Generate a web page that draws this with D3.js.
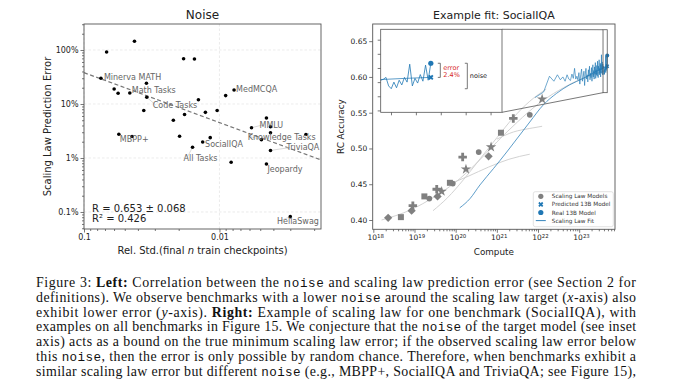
<!DOCTYPE html>
<html>
<head>
<meta charset="utf-8">
<script src="https://cdn.jsdelivr.net/npm/d3@7"></script>
<style>
  body { margin: 0; background: #fff; }
  svg { display: block; font-family: "DejaVu Sans", sans-serif; }
</style>
</head>
<body>
<div id="fig"></div>
<script>

// ---------------- LEFT PANEL DATA (noise vs. scaling law error) ----------------
const relStd = [0.0681, 0.0424, 0.0184, 0.0153, 0.0750, 0.0346, 0.0599, 0.0560, 0.0459, 0.0344,
                0.0143, 0.0090, 0.0078, 0.0362, 0.0219, 0.0181, 0.0127, 0.0104, 0.0058, 0.0045,
                0.0042, 0.0042, 0.0049, 0.0023, 0.0042, 0.0045, 0.0082, 0.0553, 0.0442, 0.0197,
                0.0117, 0.0133, 0.0158, 0.0030];
const predError = [0.918, 1.45, 0.69, 0.68, 0.299, 0.242, 0.19, 0.158, 0.16, 0.133,
                   0.12, 0.143, 0.182, 0.076, 0.050, 0.064, 0.070, 0.076, 0.0364, 0.055,
                   0.038, 0.0294, 0.0218, 0.0272, 0.0138, 0.00774, 0.00832, 0.0275, 0.0250, 0.0252,
                   0.0238, 0.0198, 0.0158, 0.00082];
// named benchmarks: index into the arrays above
const benchIndex = [4, 8, 9, 12, 18, 22, 24, 25, 31, 32, 27, 33];
const benchNames = ["Minerva MATH", "Math Tasks", "Code Tasks", "MedMCQA", "MMLU", "Knowledge Tasks",
                    "TriviaQA", "Jeopardy", "SocialIQA", "All Tasks", "MBPP+", "HellaSwag"];
// regression line ends (rel. std, error)
const fitRelStd = [0.1, 0.00178];
const fitError = [0.38, 0.0092];
const statLines = ["R = 0.653 \u00b1 0.068", "R\u00b2 = 0.426"];
const leftYTicks = [1, 0.1, 0.01, 0.001];
const leftXTicks = [0.1, 0.01];

// ---------------- RIGHT PANEL DATA (example fit: SocialIQA) ----------------
// scaling law models: log10(compute), accuracy, marker
const smLogC = [18.36, 18.67, 18.93, 18.96, 19.24, 19.36, 19.54, 19.56, 19.66, 19.86,
                19.93, 20.17, 20.25, 20.56, 20.80, 20.86, 21.10, 21.40, 21.80, 22.10];
const smAcc = [0.403, 0.404, 0.413, 0.420, 0.433, 0.430, 0.443, 0.433, 0.440, 0.452,
               0.451, 0.488, 0.471, 0.495, 0.489, 0.502, 0.522, 0.542, 0.547, 0.569];
const smShape = ["D", "s", "D", "P", "s", "o", "P", "D", "*", "s",
                 "o", "P", "*", "o", "D", "*", "s", "P", "o", "*"];
// light grey per-ladder fits: [log10(compute), accuracy]
const ladderFits = [
  [[18.2, 0.400], [18.9, 0.414], [19.5, 0.433], [20.0, 0.453], [20.5, 0.479], [21.0, 0.509],
   [21.5, 0.537], [22.0, 0.562], [22.5, 0.581], [23.0, 0.596], [23.6, 0.608]],
  [[19.45, 0.413], [19.8, 0.431], [20.2, 0.457], [20.6, 0.486], [21.0, 0.515], [21.4, 0.543],
   [21.8, 0.566], [22.2, 0.583]],
  [[19.8, 0.449], [20.3, 0.461], [20.8, 0.474], [21.3, 0.485], [21.8, 0.492]],
  [[21.0, 0.513], [21.4, 0.523], [21.8, 0.528], [22.1, 0.531]]
];
// blue scaling law fit: [log10(compute), accuracy]
const scalingFit = [[20.10, 0.417], [20.35, 0.430], [20.59, 0.449], [20.92, 0.472], [21.24, 0.495],
                    [21.52, 0.516], [21.80, 0.537], [22.13, 0.561], [22.45, 0.577], [22.77, 0.589],
                    [23.10, 0.598], [23.42, 0.608], [23.68, 0.615]];
// 13B training checkpoints (evenly spaced in steps)
const ckptFirst = 8.4e21, ckptLast = 4.8e23;
const ckptAcc = [
  0.571, 0.579, 0.601, 0.594, 0.603, 0.596, 0.600, 0.594, 0.603, 0.597,
  0.595, 0.604, 0.598, 0.612, 0.597, 0.601, 0.596, 0.606, 0.590, 0.603,
  0.611, 0.594, 0.600, 0.608, 0.588, 0.604, 0.612, 0.597, 0.603, 0.593,
  0.610, 0.601, 0.615, 0.596, 0.605, 0.599, 0.613, 0.594, 0.607, 0.617,
  0.600, 0.609, 0.597, 0.614, 0.604, 0.620, 0.598, 0.610, 0.603, 0.616,
  0.601, 0.622, 0.607, 0.599, 0.615, 0.609, 0.624, 0.603, 0.612, 0.606,
  0.619, 0.600, 0.617, 0.610, 0.631, 0.605, 0.614, 0.621, 0.603, 0.618,
  0.612, 0.613, 0.615, 0.606, 0.603, 0.610, 0.604, 0.612, 0.607, 0.615,
  0.610, 0.629, 0.606, 0.614, 0.609, 0.618, 0.611, 0.628, 0.612, 0.630];
const predicted13B = 0.615;
const real13B = 0.630;
const insetWindow = 20;          // last n checkpoints shown in the inset
const insetAccRange = [0.578, 0.666];
const rightYTicks = [0.40, 0.45, 0.50, 0.55, 0.60, 0.65];
const rightXExp = [18, 19, 20, 21, 22, 23];
const legendItems = ["Scaling Law Models", "Predicted 13B Model", "Real 13B Model", "Scaling Law Fit"];

// ---------------- CAPTION ----------------
const captionLines = [
  [["Figure 3: ", ""], ["Left:", "b"], [" Correlation between the ", ""], ["noise", "m"], [" and scaling law prediction error (see Section 2 for", ""]],
  [["definitions). We observe benchmarks with a lower ", ""], ["noise", "m"], [" around the scaling law target (", ""], ["x", "i"], ["-axis) also", ""]],
  [["exhibit lower error (", ""], ["y", "i"], ["-axis). ", ""], ["Right:", "b"], [" Example of scaling law for one benchmark (SocialIQA), with", ""]],
  [["examples on all benchmarks in Figure 15. We conjecture that the ", ""], ["noise", "m"], [" of the target model (see inset", ""]],
  [["axis) acts as a bound on the true minimum scaling law error; if the observed scaling law error below", ""]],
  [["this ", ""], ["noise", "m"], [", then the error is only possible by random chance. Therefore, when benchmarks exhibit a", ""]],
  [["similar scaling law error but different ", ""], ["noise", "m"], [" (e.g., MBPP+, SocialIQA and TriviaQA; see Figure 15),", ""]]
];

// ================= LAYOUT =================
const settings = {
  width: 678, height: 381,
  left: { x0: 84, x1: 321, y0: 24, y1: 229 },
  right: { x0: 372.7, x1: 615, y0: 24, y1: 229.3 },
  inset: { x0: 380.7, x1: 502, y0: 29.3, y1: 112.3 },
  spine: "#555",
  blue: "#1f77b4",
  grey: "#808080"
};
// label offsets (px) from the point to the label's left/middle
const labelOffset = [[3, -1], [2, -2.3], [6, 7.7], [2, -0.7], [8, -2.7], [-13.7, -3],
                     [16, -2.8], [1, 5.3], [2.4, 2.7], [-9, 11.4], [1, 4.7], [-13.3, 4.3]];

const svg = d3.select("#fig").append("svg")
  .attr("width", settings.width)
  .attr("height", settings.height);

function minorLogTicks(domain) {
  const lo = Math.min(...domain), hi = Math.max(...domain);
  const out = [];
  for (let e = Math.floor(Math.log10(lo)); e <= Math.ceil(Math.log10(hi)); e++) {
    for (let m = 2; m <= 9; m++) {
      const v = m * Math.pow(10, e);
      if (v >= lo && v <= hi) out.push(v);
    }
  }
  return out;
}

function styleAxis(g, fontSize) {
  g.select(".domain").remove();
  g.selectAll("line").attr("stroke", settings.spine).attr("stroke-width", 0.8);
  g.selectAll("text").attr("fill", "#222").attr("font-size", fontSize).attr("font-family", "DejaVu Sans");
}

// ================= LEFT PANEL =================
const P = settings.left;
const xL = d3.scaleLog().domain([0.1, 0.00178]).range([P.x0, P.x1]);
const yL = d3.scaleLog().domain([0.000484, 3.03]).range([P.y1, P.y0]);
const gL = svg.append("g");

// grid
gL.append("g").selectAll("line").data(leftYTicks).join("line")
  .attr("x1", P.x0).attr("x2", P.x1).attr("y1", d => yL(d)).attr("y2", d => yL(d))
  .attr("stroke", "#e3e3e3").attr("stroke-width", 0.7).attr("stroke-dasharray", "2.5,2");
gL.append("g").selectAll("line").data(leftXTicks).join("line")
  .attr("y1", P.y0).attr("y2", P.y1).attr("x1", d => xL(d)).attr("x2", d => xL(d))
  .attr("stroke", "#e3e3e3").attr("stroke-width", 0.7).attr("stroke-dasharray", "2.5,2");

// axes
gL.append("g").attr("transform", `translate(${P.x0},0)`)
  .call(d3.axisLeft(yL).tickValues(leftYTicks).tickSize(3.5).tickPadding(2)
    .tickFormat(d => `${+(d * 100).toPrecision(3)}%`))
  .call(g => styleAxis(g, "8px"));
gL.append("g").attr("transform", `translate(${P.x0},0)`)
  .call(d3.axisLeft(yL).tickValues(minorLogTicks(yL.domain())).tickSize(2).tickFormat(""))
  .call(g => styleAxis(g, "8px"));
gL.append("g").attr("transform", `translate(0,${P.y1})`)
  .call(d3.axisBottom(xL).tickValues(leftXTicks).tickSize(3.5).tickPadding(2)
    .tickFormat(d => String(d)))
  .call(g => styleAxis(g, "8px"));
gL.append("g").attr("transform", `translate(0,${P.y1})`)
  .call(d3.axisBottom(xL).tickValues(minorLogTicks(xL.domain())).tickSize(2).tickFormat(""))
  .call(g => styleAxis(g, "8px"));

// regression line
gL.append("line")
  .attr("x1", xL(fitRelStd[0])).attr("y1", yL(fitError[0]))
  .attr("x2", xL(fitRelStd[1])).attr("y2", yL(fitError[1]))
  .attr("stroke", "#777").attr("stroke-width", 1.2).attr("stroke-dasharray", "4,2.5");

// label connectors
benchIndex.forEach((idx, k) => {
  const px = xL(relStd[idx]), py = yL(predError[idx]);
  const [dx, dy] = labelOffset[k];
  if (Math.abs(dx) > 5 || Math.abs(dy) > 6) {
    gL.append("line")
      .attr("x1", px).attr("y1", py).attr("x2", px + dx + 3).attr("y2", py + dy)
      .attr("stroke", "#cfcfcf").attr("stroke-width", 0.8);
  }
});

gL.append("g").selectAll("circle").data(relStd).join("circle")
  .attr("cx", d => xL(d))
  .attr("cy", (d, i) => yL(predError[i]))
  .attr("r", 1.8)
  .attr("fill", "#000");

gL.append("g").selectAll("text").data(benchIndex).join("text")
  .attr("x", (idx, k) => xL(relStd[idx]) + labelOffset[k][0])
  .attr("y", (idx, k) => yL(predError[idx]) + labelOffset[k][1])
  .attr("dy", "0.35em")
  .attr("font-size", "8px")
  .attr("fill", "#666")
  .text((idx, k) => benchNames[k]);

// stats
gL.append("g").selectAll("text").data(statLines).join("text")
  .attr("x", 92).attr("y", (d, i) => 208 + i * 10.5).attr("dy", "0.35em")
  .attr("font-size", "10px").attr("fill", "#222")
  .text(d => d);

// frame, titles
gL.append("rect").attr("x", P.x0).attr("y", P.y0).attr("width", P.x1 - P.x0).attr("height", P.y1 - P.y0)
  .attr("fill", "none").attr("stroke", settings.spine).attr("stroke-width", 0.9);
gL.append("text").attr("x", (P.x0 + P.x1) / 2).attr("y", 15).attr("dy", "0.35em")
  .attr("text-anchor", "middle").attr("font-size", "12px").attr("fill", "#222").text("Noise");
gL.append("text").attr("transform", `translate(47,${(P.y0 + P.y1) / 2}) rotate(-90)`)
  .attr("dy", "0.35em").attr("text-anchor", "middle").attr("font-size", "10px").attr("fill", "#222")
  .text("Scaling Law Prediction Error");
const xlab = gL.append("text").attr("x", (P.x0 + P.x1) / 2).attr("y", 250).attr("dy", "0.35em")
  .attr("text-anchor", "middle").attr("font-size", "10px").attr("fill", "#222");
xlab.append("tspan").text("Rel. Std.(final ");
xlab.append("tspan").attr("font-style", "italic").text("n");
xlab.append("tspan").text(" train checkpoints)");

// ================= RIGHT PANEL =================
const Q = settings.right;
const xR = d3.scaleLog().domain([Math.pow(10, 17.985), Math.pow(10, 23.87)]).range([Q.x0, Q.x1]);
const yR = d3.scaleLinear().domain([0.387, 0.674]).range([Q.y1, Q.y0]);
const gR = svg.append("g");

gR.append("g").attr("transform", `translate(${Q.x0},0)`)
  .call(d3.axisLeft(yR).tickValues(rightYTicks).tickSize(3.5).tickPadding(2).tickFormat(d3.format(".2f")))
  .call(g => styleAxis(g, "7.5px"));
gR.append("g").attr("transform", `translate(0,${Q.y1})`)
  .call(d3.axisBottom(xR).tickValues(rightXExp.map(e => Math.pow(10, e))).tickSize(3.5).tickPadding(2)
    .tickFormat(() => "10"))
  .call(g => styleAxis(g, "7.5px"))
  .call(g => g.selectAll(".tick text").each(function(d, i) {
    d3.select(this).attr("text-anchor", "middle").attr("dx", "0.25em")
      .append("tspan").attr("dy", "-0.45em").attr("font-size", "5.4px").text(rightXExp[i]);
  }));
gR.append("g").attr("transform", `translate(0,${Q.y1})`)
  .call(d3.axisBottom(xR).tickValues(minorLogTicks(xR.domain())).tickSize(2).tickFormat(""))
  .call(g => styleAxis(g, "7.5px"));

const lineR = d3.line().x(d => xR(Math.pow(10, d[0]))).y(d => yR(d[1])).curve(d3.curveMonotoneX);

// grey ladder fits
gR.append("g").selectAll("path").data(ladderFits).join("path")
  .attr("d", lineR).attr("fill", "none").attr("stroke", "#cdcdcd").attr("stroke-width", 0.9);

// blue scaling law fit
gR.append("path").attr("d", lineR(scalingFit)).attr("fill", "none")
  .attr("stroke", settings.blue).attr("stroke-width", 0.9).attr("stroke-opacity", 0.8);

// checkpoints
const ckptCompute = ckptAcc.map((_, i) => ckptFirst + i * (ckptLast - ckptFirst) / (ckptAcc.length - 1));
const ckpt = ckptAcc.map((a, i) => [ckptCompute[i], a]);
gR.append("path")
  .attr("d", d3.line().x(d => xR(d[0])).y(d => yR(d[1]))(ckpt))
  .attr("fill", "none").attr("stroke", settings.blue).attr("stroke-width", 0.7).attr("stroke-opacity", 0.9);

// scaling law model markers
const shapeType = { o: d3.symbolCircle, s: d3.symbolSquare, D: d3.symbolSquare, P: d3.symbolCross, "*": d3.symbolStar };
const shapeSize = { o: 26, s: 36, D: 34, P: 40, "*": 34 };
gR.append("g").selectAll("path").data(smLogC).join("path")
  .attr("transform", (d, i) => `translate(${xR(Math.pow(10, d))},${yR(smAcc[i])})` + (smShape[i] === "D" ? " rotate(45)" : ""))
  .attr("d", (d, i) => d3.symbol(shapeType[smShape[i]], shapeSize[smShape[i]])())
  .attr("fill", settings.grey);

// 13B end points on main axes
const lastC = ckptCompute[ckptCompute.length - 1];
gR.append("circle").attr("cx", xR(lastC)).attr("cy", yR(real13B)).attr("r", 2).attr("fill", settings.blue);
gR.append("path").attr("transform", `translate(${xR(lastC)},${yR(predicted13B)}) rotate(45)`)
  .attr("d", d3.symbol(d3.symbolCross, 10)()).attr("fill", settings.blue);

// zoom rectangle and connectors
const I = settings.inset;
const win = ckpt.slice(-insetWindow);
const zx0 = xR(win[0][0]), zx1 = xR(win[win.length - 1][0]);
const zy0 = yR(insetAccRange[1]), zy1 = yR(insetAccRange[0]);
gR.append("rect").attr("x", zx0).attr("y", zy0).attr("width", zx1 - zx0).attr("height", zy1 - zy0)
  .attr("fill", "none").attr("stroke", "#555").attr("stroke-width", 0.8);
gR.append("line").attr("x1", I.x1).attr("y1", I.y0).attr("x2", zx0).attr("y2", zy0)
  .attr("stroke", "#555").attr("stroke-width", 0.8);
gR.append("line").attr("x1", I.x1).attr("y1", I.y1).attr("x2", zx0).attr("y2", zy1)
  .attr("stroke", "#555").attr("stroke-width", 0.8);

// frame
gR.append("rect").attr("x", Q.x0).attr("y", Q.y0).attr("width", Q.x1 - Q.x0).attr("height", Q.y1 - Q.y0)
  .attr("fill", "none").attr("stroke", settings.spine).attr("stroke-width", 0.9);

// ---------- inset ----------
const gI = gR.append("g");
const winSpan = win[win.length - 1][0] - win[0][0];
const xI = d3.scaleLinear().domain([win[0][0], win[0][0] + winSpan * 2.42]).range([I.x0, I.x1]);
const yI = d3.scaleLinear().domain(insetAccRange).range([I.y1, I.y0]);
gI.append("rect").attr("x", I.x0).attr("y", I.y0).attr("width", I.x1 - I.x0).attr("height", I.y1 - I.y0)
  .attr("fill", "#fff");
gI.append("clipPath").attr("id", "insetClip").append("rect")
  .attr("x", I.x0).attr("y", I.y0).attr("width", I.x1 - I.x0).attr("height", I.y1 - I.y0);

gI.append("g").attr("transform", `translate(${I.x0},0)`)
  .call(d3.axisLeft(yI).tickValues(d3.range(0.58, 0.666, 0.015)).tickSize(3).tickFormat(""))
  .call(g => styleAxis(g, "6px"));
gI.append("g").attr("transform", `translate(0,${I.y1})`)
  .call(d3.axisBottom(xI).ticks(7).tickSize(3).tickFormat(""))
  .call(g => styleAxis(g, "6px"));

gI.append("path").attr("clip-path", "url(#insetClip)")
  .attr("d", d3.line().x(d => xI(Math.pow(10, d[0]))).y(d => yI(d[1])).curve(d3.curveMonotoneX)(scalingFit))
  .attr("fill", "none").attr("stroke", settings.blue).attr("stroke-width", 0.9).attr("stroke-opacity", 0.8);
gI.append("path")
  .attr("d", d3.line().x(d => xI(d[0])).y(d => yI(d[1]))(win))
  .attr("fill", "none").attr("stroke", settings.blue).attr("stroke-width", 0.8);
const endX = xI(win[win.length - 1][0]);
gI.append("circle").attr("cx", endX).attr("cy", yI(real13B)).attr("r", 2.6).attr("fill", settings.blue);
gI.append("path").attr("transform", `translate(${endX},${yI(predicted13B)}) rotate(45)`)
  .attr("d", d3.symbol(d3.symbolCross, 18)()).attr("fill", settings.blue);

// error bracket
const bx = endX + 7;
gI.append("path")
  .attr("d", `M${bx},${yI(real13B)}H${bx + 2.5}V${yI(predicted13B)}H${bx}`)
  .attr("fill", "none").attr("stroke", "#555").attr("stroke-width", 0.8);
const errPct = d3.format(".1%")((real13B - predicted13B) / predicted13B);
gI.selectAll("text.err").data(["error", errPct]).join("text").attr("class", "err")
  .attr("x", bx + 5.5).attr("y", (d, i) => 67.5 + i * 6.8).attr("dy", "0.35em")
  .attr("font-size", "6.5px").attr("fill", "#d62728").text(d => d);

// noise bracket
const [nMin, nMax] = d3.extent(win, d => d[1]);
const nx = endX + 34;
gI.append("path")
  .attr("d", `M${nx},${yI(nMax)}H${nx + 2.5}V${yI(nMin)}H${nx}`)
  .attr("fill", "none").attr("stroke", "#555").attr("stroke-width", 0.8);
gI.append("text").attr("x", nx + 5).attr("y", (yI(nMax) + yI(nMin)) / 2).attr("dy", "0.35em")
  .attr("font-size", "6.5px").attr("fill", "#222").text("noise");

gI.append("rect").attr("x", I.x0).attr("y", I.y0).attr("width", I.x1 - I.x0).attr("height", I.y1 - I.y0)
  .attr("fill", "none").attr("stroke", "#555").attr("stroke-width", 0.8);

// ---------- legend ----------
const lg = gR.append("g").attr("transform", "translate(533.3,191.7)");
lg.append("rect").attr("width", 80).attr("height", 35).attr("rx", 2)
  .attr("fill", "#fff").attr("fill-opacity", 0.85).attr("stroke", "#d5d5d5").attr("stroke-width", 0.7);
legendItems.forEach((name, i) => {
  const y = 4.6 + i * 8.1;
  const row = lg.append("g").attr("transform", `translate(7.5,${y})`);
  if (i === 0) row.append("circle").attr("r", 2.6).attr("fill", settings.grey);
  if (i === 1) row.append("path").attr("transform", "rotate(45)").attr("d", d3.symbol(d3.symbolCross, 16)()).attr("fill", settings.blue);
  if (i === 2) row.append("circle").attr("r", 2.6).attr("fill", settings.blue);
  if (i === 3) row.append("line").attr("x1", -5).attr("x2", 5).attr("stroke", settings.blue).attr("stroke-width", 0.9);
  row.append("text").attr("x", 11).attr("dy", "0.35em").attr("font-size", "5.7px").attr("fill", "#333").text(name);
});

// titles
gR.append("text").attr("x", (Q.x0 + Q.x1) / 2).attr("y", 15).attr("dy", "0.35em")
  .attr("text-anchor", "middle").attr("font-size", "11px").attr("fill", "#222").text("Example fit: SocialIQA");
gR.append("text").attr("transform", `translate(341,${(Q.y0 + Q.y1) / 2}) rotate(-90)`)
  .attr("dy", "0.35em").attr("text-anchor", "middle").attr("font-size", "8.8px").attr("fill", "#222")
  .text("RC Accuracy");
gR.append("text").attr("x", (Q.x0 + Q.x1) / 2).attr("y", 251.7).attr("dy", "0.35em")
  .attr("text-anchor", "middle").attr("font-size", "8.8px").attr("fill", "#222").text("Compute");

// ================= CAPTION =================
const cap = { x: 36, width: 600, y: 287, lineHeight: 14.8 };
captionLines.forEach((segs, k) => {
  const t = svg.append("text")
    .attr("x", cap.x).attr("y", cap.y + k * cap.lineHeight)
    .attr("textLength", cap.width).attr("lengthAdjust", "spacing")
    .attr("font-family", "Liberation Serif").attr("font-size", "13.9px")
    .attr("fill", "#111").style("white-space", "pre");
  segs.forEach(([s, st]) => {
    const ts = t.append("tspan").text(s);
    if (st === "b") ts.attr("font-weight", "bold");
    if (st === "i") ts.attr("font-style", "italic");
    if (st === "m") ts.attr("font-family", "Liberation Mono").attr("font-size", "12.6px");
  });
});

</script>
</body>
</html>
